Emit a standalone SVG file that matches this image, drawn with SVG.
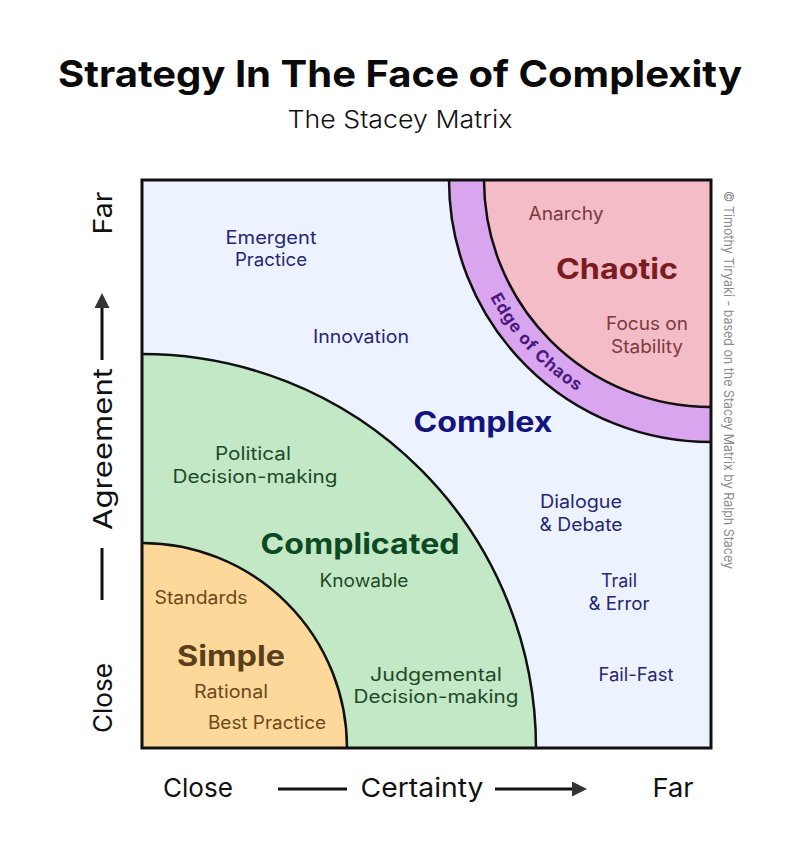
<svg xmlns="http://www.w3.org/2000/svg" width="800" height="865" viewBox="0 0 800 865">
<style>
  text { font-family: Inter, "Open Sans", "Liberation Sans", sans-serif; }
  .title { font-size: 37px; font-weight: 700; fill: #0a0a0a; }
  .sub { font-size: 24px; font-weight: 300; fill: #111; }
  .axis { font-size: 26px; font-weight: 400; fill: #111; }
  .big { font-size: 28px; font-weight: 700; }
  .lbl { font-size: 18px; font-weight: 400; }
  .cx { fill: #262678; }
  .cxb { fill: #14147e; }
  .cp { fill: #1d4a28; }
  .cpb { fill: #0d4a24; }
  .sm { fill: #6a4a18; }
  .smb { fill: #59401a; }
  .ch { fill: #7a3a40; }
  .chb { fill: #7a1c22; }
  .edge { font-size: 17px; font-weight: 700; fill: #4a1a7e; letter-spacing: 0.8px; }
  .copy { font-size: 13px; fill: #8a8a8a; }
  .arc { fill: none; stroke: #111; stroke-width: 2.5; }
  .axl { stroke: #111; stroke-width: 3; fill: none; }
</style>
<defs>
  <marker id="ah" markerUnits="userSpaceOnUse" markerWidth="16" markerHeight="16" refX="0" refY="7.5" orient="auto">
    <path d="M0,0 L15,7.5 L0,15 Z" fill="#333"/>
  </marker>
  <path id="edgePath" d="M461,180 A250,250 0 0 0 711,430"/>
</defs>
<rect width="800" height="865" fill="#ffffff"/>

<g id="title">
  <text class="title" x="400" y="87" text-anchor="middle" textLength="684" lengthAdjust="spacingAndGlyphs">Strategy In The Face of Complexity</text>
  <text class="sub" x="400" y="128" text-anchor="middle" textLength="225" lengthAdjust="spacingAndGlyphs">The Stacey Matrix</text>
</g>

<g id="complex">
  <rect x="142" y="180" width="569" height="568" fill="#edf3fe"/>
  <text class="big cxb" x="483" y="432" text-anchor="middle" textLength="139" lengthAdjust="spacingAndGlyphs">Complex</text>
  <text class="lbl cx" x="271" y="244" text-anchor="middle" textLength="91" lengthAdjust="spacingAndGlyphs">Emergent</text>
  <text class="lbl cx" x="271" y="266" text-anchor="middle" textLength="72" lengthAdjust="spacingAndGlyphs">Practice</text>
  <text class="lbl cx" x="361" y="343" text-anchor="middle" textLength="96" lengthAdjust="spacingAndGlyphs">Innovation</text>
  <text class="lbl cx" x="581" y="508" text-anchor="middle" textLength="82" lengthAdjust="spacingAndGlyphs">Dialogue</text>
  <text class="lbl cx" x="581" y="531" text-anchor="middle" textLength="83" lengthAdjust="spacingAndGlyphs">&amp; Debate</text>
  <text class="lbl cx" x="619" y="587" text-anchor="middle" textLength="36" lengthAdjust="spacingAndGlyphs">Trail</text>
  <text class="lbl cx" x="619" y="610" text-anchor="middle" textLength="61" lengthAdjust="spacingAndGlyphs">&amp; Error</text>
  <text class="lbl cx" x="636" y="681" text-anchor="middle" textLength="75" lengthAdjust="spacingAndGlyphs">Fail-Fast</text>
</g>

<g id="complicated">
  <path d="M142,748 L142,354 A394,394 0 0 1 536,748 Z" fill="#c3e8c6"/>
  <path class="arc" d="M142,354 A394,394 0 0 1 536,748"/>
  <text class="big cpb" x="360" y="554" text-anchor="middle" textLength="199" lengthAdjust="spacingAndGlyphs">Complicated</text>
  <text class="lbl cp" x="253" y="460" text-anchor="middle" textLength="76" lengthAdjust="spacingAndGlyphs">Political</text>
  <text class="lbl cp" x="255" y="483" text-anchor="middle" textLength="165" lengthAdjust="spacingAndGlyphs">Decision-making</text>
  <text class="lbl cp" x="364" y="587" text-anchor="middle" textLength="89" lengthAdjust="spacingAndGlyphs">Knowable</text>
  <text class="lbl cp" x="436" y="681" text-anchor="middle" textLength="132" lengthAdjust="spacingAndGlyphs">Judgemental</text>
  <text class="lbl cp" x="436" y="703" text-anchor="middle" textLength="165" lengthAdjust="spacingAndGlyphs">Decision-making</text>
</g>

<g id="simple">
  <path d="M142,748 L142,543 A205,205 0 0 1 347,748 Z" fill="#fdd89b"/>
  <path class="arc" d="M142,543 A205,205 0 0 1 347,748"/>
  <text class="big smb" x="231" y="666" text-anchor="middle" textLength="108" lengthAdjust="spacingAndGlyphs">Simple</text>
  <text class="lbl sm" x="201" y="604" text-anchor="middle" textLength="93" lengthAdjust="spacingAndGlyphs">Standards</text>
  <text class="lbl sm" x="231" y="698" text-anchor="middle" textLength="74" lengthAdjust="spacingAndGlyphs">Rational</text>
  <text class="lbl sm" x="267" y="729" text-anchor="middle" textLength="118" lengthAdjust="spacingAndGlyphs">Best Practice</text>
</g>

<g id="edge-of-chaos">
  <path d="M711,180 L449,180 A262,262 0 0 0 711,442 Z" fill="#daa5ef"/>
  <path class="arc" d="M449,180 A262,262 0 0 0 711,442"/>
  <text class="edge"><textPath href="#edgePath" startOffset="187" text-anchor="middle">Edge of Chaos</textPath></text>
</g>

<g id="chaotic">
  <path d="M711,180 L484,180 A227,227 0 0 0 711,407 Z" fill="#f4bcc6"/>
  <path class="arc" d="M484,180 A227,227 0 0 0 711,407"/>
  <text class="big chb" x="617" y="279" text-anchor="middle" textLength="122" lengthAdjust="spacingAndGlyphs">Chaotic</text>
  <text class="lbl ch" x="566" y="220" text-anchor="middle" textLength="75" lengthAdjust="spacingAndGlyphs">Anarchy</text>
  <text class="lbl ch" x="647" y="330" text-anchor="middle" textLength="82" lengthAdjust="spacingAndGlyphs">Focus on</text>
  <text class="lbl ch" x="647" y="353" text-anchor="middle" textLength="72" lengthAdjust="spacingAndGlyphs">Stability</text>
</g>

<g id="frame">
  <rect x="142" y="180" width="569" height="568" fill="none" stroke="#111" stroke-width="3"/>
</g>

<g id="axis-labels">
  <text class="axis" x="198" y="797" text-anchor="middle" textLength="70" lengthAdjust="spacingAndGlyphs">Close</text>
  <text class="axis" x="422" y="797" text-anchor="middle" textLength="123" lengthAdjust="spacingAndGlyphs">Certainty</text>
  <text class="axis" x="673" y="797" text-anchor="middle" textLength="41" lengthAdjust="spacingAndGlyphs">Far</text>
  <text class="axis" transform="translate(112,213) rotate(-90)" text-anchor="middle" textLength="43" lengthAdjust="spacingAndGlyphs">Far</text>
  <text class="axis" transform="translate(112,449) rotate(-90)" text-anchor="middle" textLength="162" lengthAdjust="spacingAndGlyphs">Agreement</text>
  <text class="axis" transform="translate(112,698) rotate(-90)" text-anchor="middle" textLength="70" lengthAdjust="spacingAndGlyphs">Close</text>
  <text class="copy" transform="translate(724,380) rotate(90)" text-anchor="middle" textLength="378" lengthAdjust="spacingAndGlyphs">© Timothy Tiryaki - based on the Stacey Matrix by Ralph Stacey</text>
</g>

<g id="connectors">
  <line class="axl" x1="278" y1="789" x2="347" y2="789"/>
  <line class="axl" x1="495" y1="789" x2="572" y2="789" marker-end="url(#ah)"/>
  <line class="axl" x1="102" y1="600" x2="102" y2="548"/>
  <line class="axl" x1="102" y1="360" x2="102" y2="308" marker-end="url(#ah)"/>
</g>
</svg>
